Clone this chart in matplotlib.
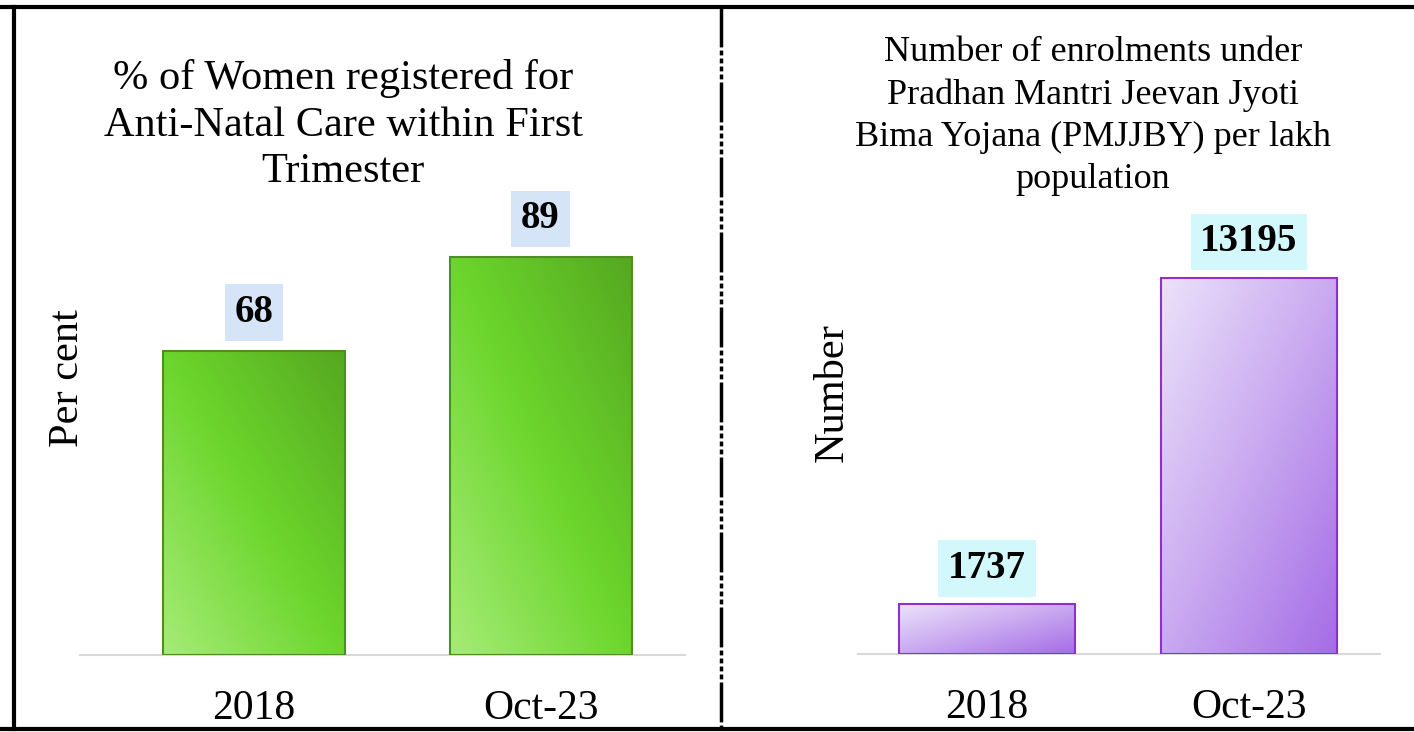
import matplotlib.pyplot as plt
import numpy as np
from matplotlib.colors import LinearSegmentedColormap
from matplotlib.lines import Line2D

plt.rcParams['font.family'] = ['Liberation Serif', 'DejaVu Serif']

# data
categories = ['2018', 'Oct-23']
anc_values = [68, 89]
pmjjby_values = [1737, 13195]

left_title = "% of Women registered for\nAnti-Natal Care within First\nTrimester"
right_title = ("Number of enrolments under\nPradhan Mantri Jeevan Jyoti\n"
               "Bima Yojana (PMJJBY) per lakh\npopulation")

W, H = 1414, 732
fig = plt.figure(figsize=(W / 100, H / 100), dpi=100)


def fx(px):
    return px / W


def fy(py):
    return 1 - py / H


green_cmap = LinearSegmentedColormap.from_list(
    'g', ['#a6ec78', '#6cd62c', '#55a820'])
purple_cmap = LinearSegmentedColormap.from_list(
    'p', ['#ebe2fa', '#c9a9f0', '#a46ce6'])


def gradient_bars(ax, x, values, width, cmap, edge, direction):
    """Draw bars filled with a diagonal gradient."""
    bars = ax.bar(x, values, width=width, color='none', edgecolor=edge,
                  linewidth=1.5, zorder=3)
    n = 200
    u, v = np.meshgrid(np.linspace(0, 1, n), np.linspace(0, 1, n))
    for b in bars:
        x0, y0 = b.get_x(), b.get_y()
        w, h = b.get_width(), b.get_height()
        if direction == 'up':   # light bottom-left -> dark top-right
            grad = (u + v) / 2
        else:                   # light top-left -> dark bottom-right
            grad = (u + (1 - v)) / 2
        im = ax.imshow(grad, cmap=cmap, origin='lower', aspect='auto',
                       extent=[x0, x0 + w, y0, y0 + h], zorder=2,
                       interpolation='bilinear')
        im.set_clip_path(b)
    return bars


def style_axes(ax):
    for s in ['top', 'right', 'left']:
        ax.spines[s].set_visible(False)
    ax.spines['bottom'].set_color('#d9d9d9')
    ax.spines['bottom'].set_linewidth(1.5)
    ax.set_yticks([])
    ax.tick_params(axis='x', length=0, labelsize=30, pad=25)


# left panel
ax1 = fig.add_axes([fx(80), fy(655), fx(605), (655 - 60) / H])
x = np.arange(len(categories))
gradient_bars(ax1, x, anc_values, 0.635, green_cmap, '#4f8f22', 'up')
ax1.set_xlim(-0.607, 1.504)
ax1.set_ylim(0, 595 / 4.475)
ax1.set_xticks(x)
ax1.set_xticklabels(categories)
style_axes(ax1)
for xi, val in zip(x, anc_values):
    ax1.text(xi, val + 38 / 4.475, str(val), ha='center', va='center',
             fontsize=28, fontweight='bold', zorder=4,
             bbox=dict(boxstyle='square,pad=0.25', fc='#d6e4f8', ec='none'))

# right panel
ax2 = fig.add_axes([fx(858), fy(654), fx(522), (654 - 60) / H])
gradient_bars(ax2, x, pmjjby_values, 0.672, purple_cmap, '#8e2fd0', 'down')
ax2.set_xlim(-0.492, 1.5)
ax2.set_ylim(0, 594 / 0.0285)
ax2.set_xticks(x)
ax2.set_xticklabels(categories)
style_axes(ax2)
for xi, val in zip(x, pmjjby_values):
    ax2.text(xi, val + 36 / 0.0285, str(val), ha='center', va='center',
             fontsize=28, fontweight='bold', zorder=4,
             bbox=dict(boxstyle='square,pad=0.25', fc='#d2f8fc', ec='none'))

# titles and axis labels
fig.text(fx(343), fy(125), left_title, ha='center', va='center',
         fontsize=30.5, linespacing=1.28)
fig.text(fx(1093), fy(116), right_title, ha='center', va='center',
         fontsize=26, linespacing=1.36)
fig.text(fx(68), fy(378), 'Per cent', ha='center', va='center',
         rotation=90, fontsize=30.5)
fig.text(fx(832), fy(393), 'Number', ha='center', va='center',
         rotation=90, fontsize=30.5)

# frame: outer border and dashed divider
fig.add_artist(Line2D([0, 1], [fy(7), fy(7)], color='black', lw=3))
fig.add_artist(Line2D([0, 1], [fy(729), fy(729)], color='black', lw=3))
fig.add_artist(Line2D([fx(14), fx(14)], [fy(7), fy(729)], color='black', lw=3))
fig.add_artist(Line2D([fx(721), fx(721)], [fy(7), fy(729)], color='black',
                      lw=2.5, linestyle=(0, (11.5, 0.9, 1.4, 0.9, 1.4, 0.9,
                                             1.4, 0.9, 1.4, 0.9))))

fig.savefig('out.png', dpi=100)
